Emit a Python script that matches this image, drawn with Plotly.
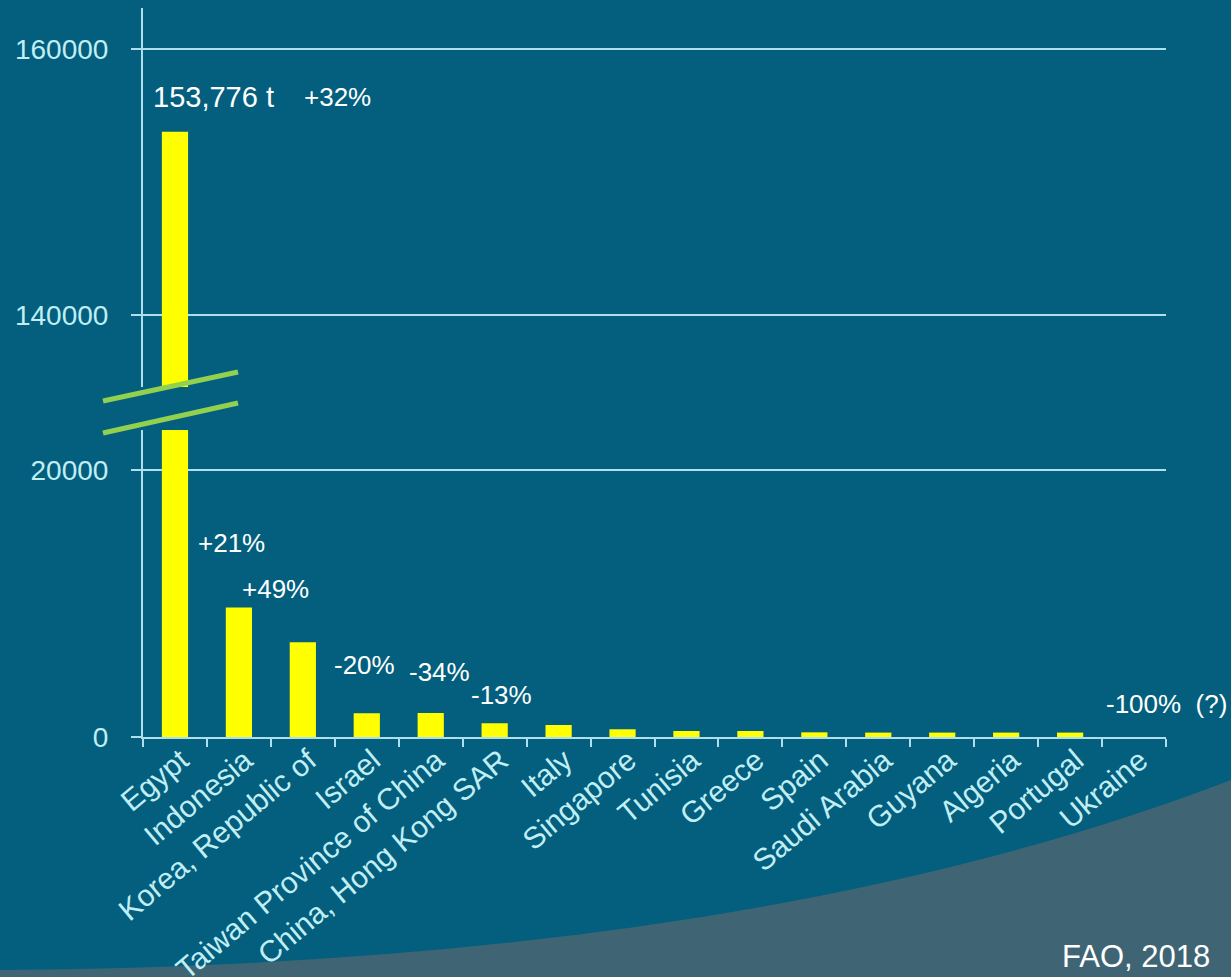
import plotly.graph_objects as go

# ---- data ----
categories = ["Egypt", "Indonesia", "Korea, Republic of", "Israel",
              "Taiwan Province of China", "China, Hong Kong SAR", "Italy",
              "Singapore", "Tunisia", "Greece", "Spain", "Saudi Arabia",
              "Guyana", "Algeria", "Portugal", "Ukraine"]
production_t = [153776, 9700, 7100, 1780, 1800, 1030, 900, 580, 450, 450,
                350, 330, 330, 330, 330, 0]
total_label = "153,776 t"
change_labels = ["+32%", "+21%", "+49%", "-20%", "-34%", "-13%", "-100%\u00a0\u00a0(?)"]
lower_ticks = [0, 20000]
upper_ticks = [140000, 160000]
source_label = "FAO, 2018"

# ---- layout geometry ----
W, H = 1231, 977
L, R, T, B = 143, 65, 8, 240
PW, PH = W - L - R, H - T - B


def pxx(x):
    return (x - L) / PW


def pxy(y):
    return (H - B - y) / PH


BG = "#035f7d"
SWOOSH = "#3f6574"
AXIS = "#afdeec"
TICKTXT = "#c0eef4"
BAR = "#ffff00"
BREAK = "#92d050"
FONT = "Liberation Sans, Arial, sans-serif"

fig = go.Figure()
fig.add_trace(go.Bar(x=categories, y=production_t, marker_color=BAR,
                     marker_line_width=0, xaxis="x", yaxis="y", showlegend=False))
fig.add_trace(go.Bar(x=categories, y=production_t, marker_color=BAR,
                     marker_line_width=0, xaxis="x", yaxis="y2", showlegend=False))

annots = []
wt = dict(family=FONT, color="white")
annots.append(dict(x=0.61, y=156400, xref="x", yref="y2", text=total_label,
                   showarrow=False, font=dict(size=29, **wt)))
pos = [(2.54, 156400, "y2"), (0.884, 14530, "y"), (1.57, 11090, "y"),
       (2.96, 5390, "y"), (4.145, 4870, "y"), (5.1, 3150, "y"),
       (15.5, 2470, "y")]
for (x, y, yr), t in zip(pos, change_labels):
    annots.append(dict(x=x, y=y, xref="x", yref=yr, text=t, showarrow=False,
                       font=dict(size=26, **wt)))
annots.append(dict(x=pxx(1135.5), y=pxy(976), xref="paper", yref="paper",
                   xanchor="center", yanchor="bottom",
                   text=source_label, showarrow=False, font=dict(size=31, **wt)))

shapes = [
    dict(type="path", xref="paper", yref="paper", layer="below",
         path=(f"M {pxx(0)},{pxy(970)} Q {pxx(750)},{pxy(965)} {pxx(1231)},{pxy(780)} "
               f"L {pxx(1231)},{pxy(977)} L {pxx(0)},{pxy(977)} Z"),
         fillcolor=SWOOSH, line=dict(width=0)),
    dict(type="line", xref="paper", yref="paper", x0=pxx(103), y0=pxy(401),
         x1=pxx(238), y1=pxy(372), line=dict(color=BREAK, width=5)),
    dict(type="line", xref="paper", yref="paper", x0=pxx(103), y0=pxy(433),
         x1=pxx(238), y1=pxy(403), line=dict(color=BREAK, width=5)),
]

yaxis_common = dict(showline=True, linecolor=AXIS, linewidth=2, showgrid=True,
                    gridcolor=AXIS, gridwidth=2, zeroline=False, ticks="outside",
                    ticklen=10, tickwidth=2, tickcolor=AXIS, tickformat="d",
                    tickfont=dict(family=FONT, size=28, color=TICKTXT),
                    ticklabelstandoff=17, fixedrange=True)

fig.update_layout(
    width=W, height=H, margin=dict(l=L, r=R, t=T, b=B, autoexpand=False),
    paper_bgcolor=BG, plot_bgcolor="rgba(0,0,0,0)", bargap=0.59,
    xaxis=dict(type="category", anchor="y", showline=True, linecolor=AXIS,
               linewidth=2, showgrid=False, ticks="outside", ticklen=8,
               tickwidth=2, tickcolor=AXIS, tickson="boundaries", tickangle=-40,
               tickfont=dict(family=FONT, size=30, color=TICKTXT),
               ticklabelstandoff=-8, ticklabelshift=6,
               range=[-0.5, 15.5], automargin=False),
    yaxis=dict(domain=[0, pxy(430)], range=[0, 23000], tickvals=lower_ticks,
               anchor="x", automargin=False, **yaxis_common),
    yaxis2=dict(domain=[pxy(387), 1], range=[134586, 163083], tickvals=upper_ticks,
                anchor="x", automargin=False, **yaxis_common),
    annotations=annots, shapes=shapes,
)

fig.write_html("out.html")
